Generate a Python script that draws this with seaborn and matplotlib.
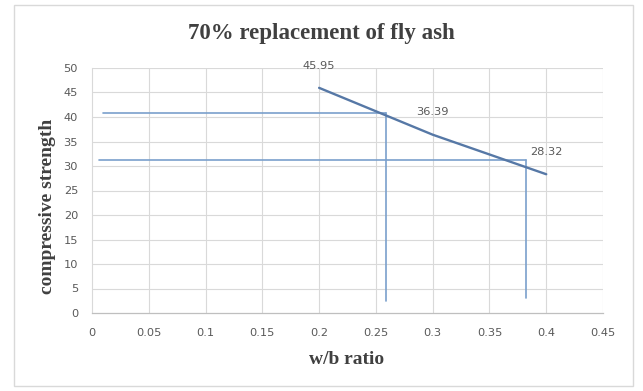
import matplotlib
matplotlib.use("Agg")
import matplotlib.pyplot as plt
import seaborn as sns
import pandas as pd
from matplotlib.patches import FancyBboxPatch

# Measured compressive strength against water/binder ratio
wb_ratio = [0.2, 0.3, 0.4]
strength = [45.95, 36.39, 28.32]

# Read-off guide lines: target strength -> required w/b ratio
guide_strength = [40.9, 31.2]
guide_ratio = [0.259, 0.382]
guide_start = [0.01, 0.006]
guide_floor = [2.5, 3.0]

x_ticks = [0, 0.05, 0.1, 0.15, 0.2, 0.25, 0.3, 0.35, 0.4, 0.45]
y_ticks = list(range(0, 55, 5))

sns.set_style("white")
plt.rcParams["font.family"] = ["DejaVu Sans"]

df = pd.DataFrame({"w/b ratio": wb_ratio, "compressive strength": strength})

fig = plt.figure(figsize=(6.43, 3.91), dpi=100)
fig.patch.set_facecolor("white")
fig.patches.append(FancyBboxPatch((14 / 643, 5 / 391), 619 / 643, 381 / 391,
                                  boxstyle="square,pad=0", transform=fig.transFigure,
                                  facecolor="none", edgecolor="#d9d9d9", linewidth=1.0))

ax = fig.add_axes([92 / 643, 1 - 313 / 391, 511 / 643, 245 / 391])

grid_c = "#d9d9d9"
for v in x_ticks[1:]:
    ax.axvline(v, color=grid_c, linewidth=0.8, zorder=0)
for v in y_ticks[1:]:
    ax.axhline(v, color=grid_c, linewidth=0.8, zorder=0)

guide_c = "#7aa0cc"
for s, r, x0, f in zip(guide_strength, guide_ratio, guide_start, guide_floor):
    ax.plot([x0, r], [s, s], color=guide_c, linewidth=1.2, zorder=2)
    ax.plot([r, r], [s, f], color=guide_c, linewidth=1.2, zorder=2)

sns.lineplot(data=df, x="w/b ratio", y="compressive strength", ax=ax,
             color="#5678a6", linewidth=1.7, zorder=3)

for x, y in zip(wb_ratio, strength):
    ax.annotate(f"{y:.2f}", (x, y), xytext=(0, 16), textcoords="offset points",
                ha="center", va="center", fontsize=8.2, color="#595959")

ax.set_xlim(0, 0.45)
ax.set_ylim(0, 50)
ax.set_xticks(x_ticks)
ax.set_xticklabels(["0" if t == 0 else f"{t:g}" for t in x_ticks])
ax.set_yticks(y_ticks)
ax.tick_params(axis="both", length=0, labelsize=8.2, labelcolor="#595959")
ax.tick_params(axis="x", pad=11)
ax.tick_params(axis="y", pad=10)

for side in ("top", "right"):
    ax.spines[side].set_visible(False)
ax.spines["left"].set_color(grid_c)
ax.spines["left"].set_linewidth(0.8)
ax.spines["bottom"].set_color("#bfbfbf")
ax.spines["bottom"].set_linewidth(0.9)

serif = ["Liberation Serif", "DejaVu Serif"]
ax.set_xlabel("w/b ratio", fontsize=14, fontweight="bold", family=serif,
              color="#404040", va="center")
ax.xaxis.set_label_coords(255 / 511, -47 / 245)
ax.set_ylabel("compressive strength", fontsize=14, fontweight="bold", family=serif,
              color="#404040", va="center")
ax.yaxis.set_label_coords(-44 / 511, 107 / 245)
fig.text(0.5, 1 - 33 / 391, "70% replacement of fly ash", ha="center", va="center",
         fontsize=16.5, fontweight="bold", family=serif, color="#404040")

fig.savefig("out.png", dpi=100, facecolor="white")
